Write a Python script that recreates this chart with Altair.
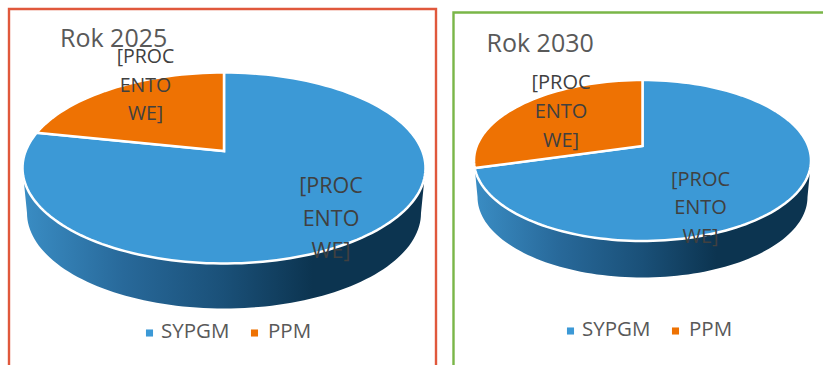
import math

import altair as alt
import pandas as pd

# Shares of each fuel category per year
years = ["Rok 2025", "Rok 2030"]
sypgm_share = [0.81, 0.735]
ppm_share = [0.19, 0.265]

label_lines = ["[PROC", "ENTO", "WE]"]
legend_names = ["SYPGM", "PPM"]

BLUE = "#3C99D6"
ORANGE = "#EE7203"
TEXT = "#595959"
LABEL = "#404040"
FONT = "Open Sans"

W, H = 823, 365

# Drawing frame of each pie: top ellipse, sector apex, lower rim of the wall
pies = [
    dict(cx=224, cy=168, rx=201.5, ry=95.5, apex=151, low_rx=197, low_cy=213),
    dict(cx=642.5, cy=160.5, rx=168.5, ry=80.5, apex=146, low_rx=165, low_cy=197),
]

x_scale = alt.Scale(domain=[0, W], nice=False, zero=False)
y_scale = alt.Scale(domain=[H, 0], nice=False, zero=False)
X = alt.X("x:Q", scale=x_scale, axis=None)
Y = alt.Y("y:Q", scale=y_scale, axis=None)


def rim(p, turn):
    """Point on the top ellipse, turn measured clockwise from 12 o'clock."""
    a = 2 * math.pi * turn
    return p["cx"] + p["rx"] * math.sin(a), p["cy"] - p["ry"] * math.cos(a)


def sector(p, start, share):
    pts = [(p["cx"], p["apex"])]
    n = max(2, int(share * 180))
    pts += [rim(p, start + share * k / n) for k in range(n + 1)]
    return pd.DataFrame(
        [{"x": x, "y": y, "i": i} for i, (x, y) in enumerate(pts)]
    )


def wall(p):
    pts = []
    for k in range(91):
        a = math.pi * (0.5 + k / 90)
        pts.append((p["cx"] + p["low_rx"] * math.sin(a),
                    p["low_cy"] - p["ry"] * math.cos(a)))
    for k in range(91):
        a = math.pi * (1.5 - k / 90)
        pts.append((p["cx"] + p["rx"] * math.sin(a),
                    p["cy"] - p["ry"] * math.cos(a)))
    return pd.DataFrame(
        [{"x": x, "y": y, "i": i} for i, (x, y) in enumerate(pts)]
    )


def polygon(df, fill, stroke=None, width=0):
    opts = dict(interpolate="linear-closed", fill=fill)
    if stroke:
        opts.update(stroke=stroke, strokeWidth=width)
    else:
        opts.update(strokeWidth=0)
    return alt.Chart(df).mark_line(**opts).encode(
        x=X, y=Y, order=alt.Order("i:Q")
    )


wall_fill = alt.Gradient(
    gradient="linear", x1=0, x2=1, y1=0, y2=0,
    stops=[
        alt.GradientStop(color="#3A8DC4", offset=0.0),
        alt.GradientStop(color="#28699A", offset=0.25),
        alt.GradientStop(color="#1A5078", offset=0.5),
        alt.GradientStop(color="#0C3450", offset=0.72),
        alt.GradientStop(color="#0C3450", offset=1.0),
    ],
)

layers = []

# Panel frames, running off the bottom and right of the page
frame_a = pd.DataFrame(
    [
        {"x": 9, "y": H, "i": 0},
        {"x": 9, "y": 9, "i": 1},
        {"x": 436, "y": 9, "i": 2},
        {"x": 436, "y": H, "i": 3},
    ]
)
layers.append(
    alt.Chart(frame_a).mark_line(color="#E0583C", strokeWidth=2.4).encode(
        x=X, y=Y, order=alt.Order("i:Q")
    )
)
frame_b = pd.DataFrame(
    [
        {"x": 453.5, "y": H, "i": 0},
        {"x": 453.5, "y": 12.5, "i": 1},
        {"x": W, "y": 12.5, "i": 2},
    ]
)
layers.append(
    alt.Chart(frame_b).mark_line(color="#7AB648", strokeWidth=2.4).encode(
        x=X, y=Y, order=alt.Order("i:Q")
    )
)

# Pies: wall first, then the two sectors on top
for p, s, o in zip(pies, sypgm_share, ppm_share):
    layers.append(polygon(wall(p), wall_fill))
    layers.append(polygon(sector(p, 0, s), BLUE, "#FFFFFF", 2.5))
    layers.append(polygon(sector(p, s, o), ORANGE, "#FFFFFF", 2.5))

# Year titles
titles = pd.DataFrame(
    {"x": [60, 486.5], "y": [39, 44], "t": years}
)
layers.append(
    alt.Chart(titles)
    .mark_text(font=FONT, fontSize=25, color=TEXT, align="left", baseline="middle")
    .encode(x=X, y=Y, text="t:N")
)

# Slice labels, broken over three lines as the narrow label box wraps them
label_rows = []
for cx, ys, size in [
    (145.5, [57, 86, 114], 19.5),
    (331, [187, 220, 252], 21.5),
    (561, [83, 112, 141], 20),
    (700.5, [180, 208, 237], 20),
]:
    for line, y in zip(label_lines, ys):
        label_rows.append({"x": cx, "y": y, "t": line, "s": size})
labels = pd.DataFrame(label_rows)
for size, part in labels.groupby("s"):
    layers.append(
        alt.Chart(part)
        .mark_text(font=FONT, fontSize=size, color=LABEL, align="center", baseline="middle")
        .encode(x=X, y=Y, text="t:N")
    )

# Hand-placed legends under each pie
swatches = pd.DataFrame(
    {
        "x": [149.5, 254.5, 570.5, 675.5],
        "y": [333, 333, 331, 331],
        "c": [BLUE, ORANGE, BLUE, ORANGE],
    }
)
layers.append(
    alt.Chart(swatches)
    .mark_square(size=50, opacity=1)
    .encode(x=X, y=Y, color=alt.Color("c:N", scale=None))
)
legend_text = pd.DataFrame(
    {
        "x": [161, 268, 582, 689],
        "y": [332, 332, 330, 330],
        "t": legend_names * 2,
    }
)
layers.append(
    alt.Chart(legend_text)
    .mark_text(font=FONT, fontSize=20.5, color=TEXT, align="left", baseline="middle")
    .encode(x=X, y=Y, text="t:N")
)

chart = (
    alt.layer(*layers)
    .properties(width=W, height=H, padding=0, autosize=alt.AutoSizeParams(type="none"), background="#FFFFFF")
    .configure_view(stroke=None)
)

chart.save("out.html", embed_options={"renderer": "svg", "actions": False})
